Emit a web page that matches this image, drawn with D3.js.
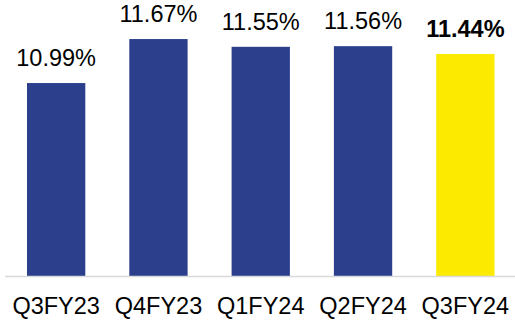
<!DOCTYPE html>
<html><head><meta charset="utf-8">
<script src="https://cdn.jsdelivr.net/npm/d3@7"></script>
<style>html,body{margin:0;padding:0;background:#fff;}svg{display:block;}</style>
</head><body>
<script>
const categories = ["Q3FY23","Q4FY23","Q1FY24","Q2FY24","Q3FY24"];
const values = [10.99, 11.67, 11.55, 11.56, 11.44];
const valueLabels = ["10.99%","11.67%","11.55%","11.56%","11.44%"];
const highlight = [false,false,false,false,true];

const W = 515, H = 321;
const svg = d3.select("body").append("svg").attr("width", W).attr("height", H);
const font = "'Liberation Sans', Arial, sans-serif";

const x = d3.scaleBand().domain(categories).range([5, 516.5]).paddingInner(0.43).paddingOuter(0.215);
const y = d3.scaleLinear().domain([8, 12.2]).range([276.5, 276.5 - 4.2*64.7]);

svg.selectAll("rect.bar").data(categories).enter().append("rect")
  .attr("x", d => x(d)).attr("width", x.bandwidth())
  .attr("y", (d,i) => y(values[i])).attr("height", (d,i) => y(8) - y(values[i]))
  .attr("fill", (d,i) => highlight[i] ? "#FCEA00" : "#2C3F8D");

svg.append("line").attr("x1", 5).attr("x2", 515).attr("y1", 276.5).attr("y2", 276.5)
  .attr("stroke", "#D9D9D9").attr("stroke-width", 1.5);

svg.selectAll("text.val").data(categories).enter().append("text")
  .attr("x", d => x(d) + x.bandwidth()/2)
  .attr("y", (d,i) => y(values[i]) - 17)
  .attr("text-anchor", "middle")
  .attr("font-family", font).attr("font-size", 23.5)
  .attr("font-weight", (d,i) => highlight[i] ? "bold" : "normal")
  .attr("fill", "#000")
  .text((d,i) => valueLabels[i]);

const xAxis = d3.axisBottom(x).tickSize(0).tickPadding(0);
const g = svg.append("g").attr("transform", "translate(0,276.5)").call(xAxis);
g.select(".domain").remove();
g.selectAll("text").attr("font-family", font).attr("font-size", 23.5).attr("fill", "#000")
  .attr("dy", null).attr("y", 37);
</script>
</body></html>
